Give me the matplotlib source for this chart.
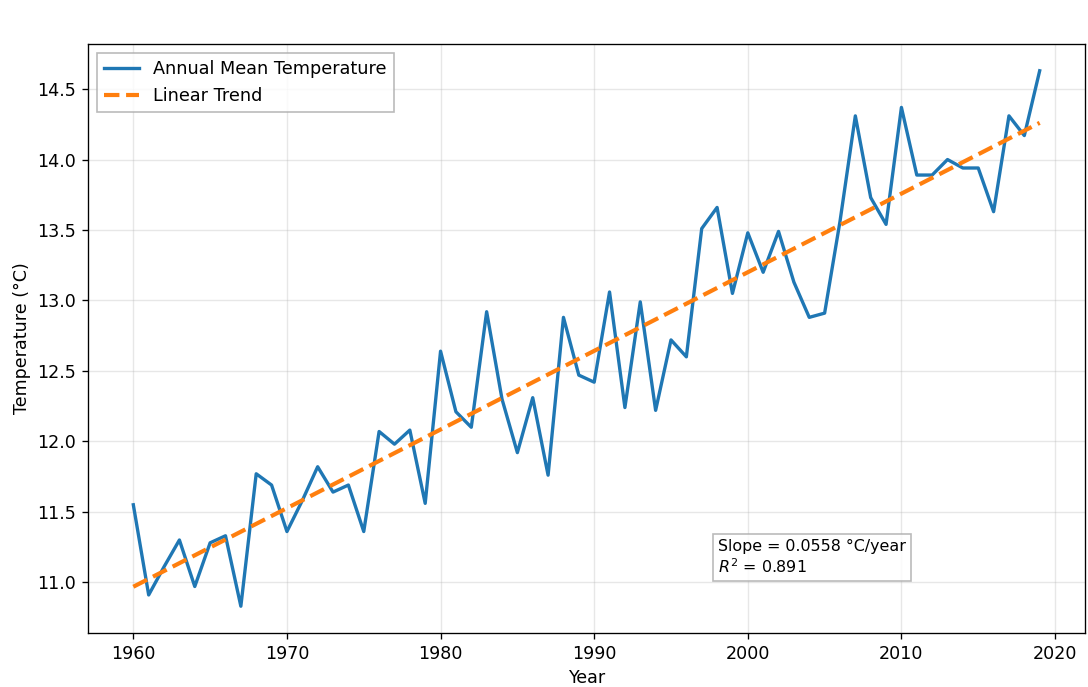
import numpy as np
import matplotlib
matplotlib.use("Agg")
import matplotlib.pyplot as plt

years = np.arange(1960, 2020)
temps = [
    11.55, 10.91, 11.11, 11.30, 10.97, 11.28, 11.33, 10.83, 11.77, 11.69,
    11.36, 11.58, 11.82, 11.64, 11.69, 11.36, 12.07, 11.98, 12.08, 11.56,
    12.64, 12.21, 12.10, 12.92, 12.30, 11.92, 12.31, 11.76, 12.88, 12.47,
    12.42, 13.06, 12.24, 12.99, 12.22, 12.72, 12.60, 13.51, 13.66, 13.05,
    13.48, 13.20, 13.49, 13.13, 12.88, 12.91, 13.56, 14.31, 13.73, 13.54,
    14.37, 13.89, 13.89, 14.00, 13.94, 13.94, 13.63, 14.31, 14.17, 14.63,
]
slope = 0.0558
r_squared = 0.891

temps = np.array(temps)
# least-squares line passes through the mean point
intercept = temps.mean() - slope * years.mean()
trend = slope * years + intercept

plt.rcParams["font.size"] = 10.5

dpi = 120
fig = plt.figure(figsize=(1088 / dpi, 687 / dpi), dpi=dpi)
ax = fig.add_axes([88 / 1088, 1 - 633 / 687, (1085 - 88) / 1088, (633 - 44) / 687])

ax.plot(years, temps, color="#1f77b4", lw=2, label="Annual Mean Temperature")
ax.plot(years, trend, color="#ff7f0e", lw=2.5, ls="--", label="Linear Trend")

ax.set_xlabel("Year", fontsize=10.5)
ax.set_ylabel("Temperature (°C)", fontsize=10.5)
ax.tick_params(labelsize=10.5)
ax.grid(True, alpha=0.3)
ax.legend(loc="upper left", fancybox=False, edgecolor="#aaaaaa", fontsize=10.6)

ax.text(0.632, 0.097, f"Slope = {slope:.4f} °C/year\n$R^2$ = {r_squared:.3f}",
        transform=ax.transAxes, va="bottom", ha="left", fontsize=9.5,
        bbox=dict(facecolor="white", edgecolor="#aaaaaa", alpha=0.8, pad=3))

fig.savefig("out.png", dpi=dpi)
